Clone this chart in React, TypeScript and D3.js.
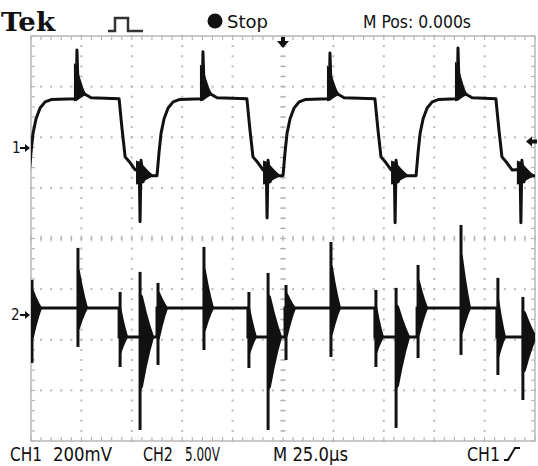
import React from "react";
import * as d3 from "d3";

const W = 538;
const H = 466;

// screen: 10 x 25 µs divisions, trigger in the middle; 8 vertical divisions
const timeDomain = [-125, 125];
const divDomain = [-4, 4];

// CH1 200 mV/div, ground marker 1.79 div above centre
const ch1Offset = 1.79;
const ch1PerDiv = 200;
const ch1High = 194;
const ch1Low = -110;
const ch1Rise = [-126, -62.5, 0, 66];
const ch1Spike = [-102.2, -39.7, 23.3, 86.8];
const ch1SpikePeak = [387, 380, 375, 395];
const ch1Fall = [-81.3, -17.9, 45.6, 105.6];
const ch1Dip = [-70.9, -7.9, 55.6, 118];
const ch1DipLow = [-292, -277, -296, -296];

// CH2 5 V/div, ground marker 1.51 div below centre
const ch2Offset = -1.51;
const ch2PerDiv = 5;
const ch2High = 0.69;
const ch2Low = -2.17;
const ch2Kind = ["r", "s", "f", "d", "r", "s", "f", "d", "r", "s", "f", "d", "r", "s", "f", "d"];
const ch2Time = [-125, -102.2, -81.3, -71.4, -62.5, -39.7, -17.4, -7.9, 1.0, 23.3, 45.6, 55.6, 66.5, 87.8, 106.1, 118.5];
const ch2Max = [3.46, 6.62, 2.27, 4.25, 3.16, 6.72, 2.27, 4.15, 2.96, 7.21, 2.47, 2.67, 4.94, 8.89, 3.66, 1.78];
const ch2Min = [-4.74, -3.16, -5.14, -11.36, -4.94, -3.46, -5.24, -11.36, -4.45, -4.15, -5.14, -11.16, -4.25, -3.95, -5.93, -8.4];

const plot = { left: 31, right: 535, top: 36, bottom: 441 };
const ink = "#111";
const gridGray = "#b8b8b8";
const narrow = "'Liberation Sans Narrow', 'DejaVu Sans Condensed', 'Liberation Sans', sans-serif";

const x = d3.scaleLinear().domain(timeDomain).range([plot.left, plot.right]);
const y = d3.scaleLinear().domain(divDomain).range([plot.bottom, plot.top]);
const y1 = (mv: number) => y(ch1Offset + mv / ch1PerDiv);
const y2 = (v: number) => y(ch2Offset + v / ch2PerDiv);

// decay profile of the ringing blocks
const decayPos = [0, 0.25, 0.5, 0.75, 1];
const decayAmp = [1, 0.9, 0.55, 0.25, 0];

function ch1Points() {
  const A = ch1High - ch1Low;
  const pts: [number, number][] = [];
  ch1Rise.forEach((r, i) => {
    const s = ch1Spike[i], f = ch1Fall[i], d = ch1Dip[i];
    pts.push([r, ch1Low], [r + 1, ch1Low + 0.3 * A], [r + 2, ch1Low + 0.55 * A], [r + 3.5, ch1Low + 0.74 * A],
      [r + 5.5, ch1Low + 0.88 * A], [r + 8, ch1Low + 0.96 * A], [r + 11, ch1Low + 0.99 * A]);
    pts.push([s - 0.4, ch1High], [s, ch1SpikePeak[i]], [s + 0.5, ch1High + 60], [s + 1.5, ch1High + 43],
      [s + 4, ch1High + 18], [s + 7, ch1High + 4]);
    pts.push([f, ch1High], [f + 1.5, ch1Low + 0.6 * A], [f + 3, ch1Low + 0.245 * A], [f + 5.5, ch1Low + 0.168 * A],
      [f + 8, ch1Low + 0.076 * A]);
    pts.push([d - 0.4, ch1Low + 0.08 * A], [d, ch1DipLow[i]], [d + 0.5, ch1Low + 0.2 * A], [d + 1.5, ch1Low - 0.08 * A],
      [d + 3, ch1Low + 0.05 * A], [d + 5, ch1Low]);
  });
  pts.push([130, ch1Low]);
  return pts;
}

type Block = { t: number; w: number; base: number; hi: number; lo: number };

function blockPath(b: Block, ys: (v: number) => number) {
  const area = d3
    .area<number>()
    .x((_, i) => x(b.t + decayPos[i] * b.w))
    .y0((a) => ys(b.base + (b.lo - b.base) * a))
    .y1((a) => ys(b.base + (b.hi - b.base) * a));
  return area(decayAmp) || "";
}

export default function App() {
  const line = d3.line<[number, number]>().x((p) => x(p[0])).y((p) => y1(p[1]));
  const ch1Path = line(ch1Points()) || "";

  const ch1Blocks: Block[] = [];
  ch1Spike.forEach((s, i) => {
    const base = ch1High + 15;
    ch1Blocks.push({ t: s - 1.5, w: 6, base, hi: base + (ch1SpikePeak[i] - 10 - base) * 0.75, lo: ch1High - 10 });
  });
  ch1Dip.forEach((d) => {
    ch1Blocks.push({ t: d - 2, w: 9, base: ch1Low, hi: ch1Low + 60, lo: ch1Low - 35 });
  });

  // CH2 level: high while CH1 is high, low while low
  const levels: [number, number][] = [[-130, ch2Low]];
  ch2Time.forEach((t, i) => {
    if (ch2Kind[i] === "r") levels.push([t, ch2High]);
    if (ch2Kind[i] === "f") levels.push([t, ch2Low]);
  });
  levels.push([130, ch2Low]);
  const step = d3.line<[number, number]>().x((p) => x(p[0])).y((p) => y2(p[1])).curve(d3.curveStepAfter);
  const ch2Path = step(levels) || "";

  const widthOf: Record<string, number> = { r: 5.5, s: 5.5, f: 4.5, d: 7.5 };
  const ch2Blocks: Block[] = ch2Time.map((t, i) => {
    const k = ch2Kind[i];
    const base = k === "r" || k === "s" ? ch2High : ch2Low;
    return { t, w: widthOf[k], base, hi: base + (ch2Max[i] - base) * 0.7, lo: base + (ch2Min[i] - base) * 0.6 };
  });

  // graticule
  const divX = d3.range(11).map((i) => x(timeDomain[0] + 25 * i));
  const divY = d3.range(9).map((i) => y(divDomain[0] + i));
  const minorX = d3.range(51).map((i) => x(timeDomain[0] + 5 * i));
  const minorY = d3.range(41).map((i) => y(divDomain[0] + i * 0.2));
  const cx = x(0);
  const cy = y(0);

  const dots: JSX.Element[] = [];
  divX.slice(1, 10).forEach((gx, i) =>
    minorY.forEach((my, j) => dots.push(<rect key={`v${i}-${j}`} x={gx - 1} y={my - 1} width={2} height={2} fill={gridGray} />))
  );
  divY.slice(1, 8).forEach((gy, i) =>
    minorX.forEach((mx, j) => dots.push(<rect key={`h${i}-${j}`} x={mx - 1} y={gy - 1} width={2} height={2} fill={gridGray} />))
  );

  const ticks: JSX.Element[] = [];
  minorX.forEach((mx, j) => {
    ticks.push(<line key={`tt${j}`} x1={mx} x2={mx} y1={plot.top} y2={plot.top + 4} />);
    ticks.push(<line key={`tb${j}`} x1={mx} x2={mx} y1={plot.bottom - 4} y2={plot.bottom} />);
    ticks.push(<line key={`tc${j}`} x1={mx} x2={mx} y1={cy - 3} y2={cy + 3} />);
  });
  minorY.forEach((my, j) => {
    ticks.push(<line key={`tl${j}`} x1={plot.left} x2={plot.left + 4} y1={my} y2={my} />);
    ticks.push(<line key={`tr${j}`} x1={plot.right - 4} x2={plot.right} y1={my} y2={my} />);
    ticks.push(<line key={`tm${j}`} x1={cx - 3} x2={cx + 3} y1={my} y2={my} />);
  });

  return (
    <svg width={W} height={H} style={{ position: "absolute", left: 0, top: 0, background: "#fff" }}>
      <defs>
        <clipPath id="screen">
          <rect x={plot.left} y={plot.top} width={plot.right - plot.left} height={plot.bottom - plot.top} />
        </clipPath>
      </defs>

      {/* graticule */}
      <g>{dots}</g>
      <g stroke={gridGray} strokeWidth={1.2}>{ticks}</g>
      <rect x={plot.left} y={plot.top} width={plot.right - plot.left} height={plot.bottom - plot.top}
        fill="none" stroke={gridGray} strokeWidth={1.5} />

      {/* traces */}
      <g clipPath="url(#screen)">
        <path d={ch1Path} fill="none" stroke={ink} strokeWidth={3} strokeLinejoin="round" />
        {ch1Blocks.map((b, i) => <path key={`c1b${i}`} d={blockPath(b, y1)} fill={ink} />)}
        <path d={ch2Path} fill="none" stroke={ink} strokeWidth={3} />
        {ch2Blocks.map((b, i) => <path key={`c2b${i}`} d={blockPath(b, y2)} fill={ink} />)}
        {ch2Time.map((t, i) => (
          <line key={`c2s${i}`} x1={x(t) + 1} x2={x(t) + 1} y1={y2(ch2Max[i])} y2={y2(ch2Min[i])} stroke={ink} strokeWidth={3} />
        ))}
      </g>

      {/* markers */}
      <path d={`M${cx - 2},${plot.top + 1}h4v4h4l-6,7l-6,-7h4z`} fill={ink} />
      <path d={`M${plot.right - 9},${y1(25)}l6,-5v3h5v4h-5v3z`} fill={ink} />
      <text x={12} y={y1(0) + 5} fontFamily={narrow} fontSize={15} fill={ink}>1</text>
      <path d={`M20,${y1(0) - 1}h5v-3l5,4l-5,4v-3h-5z`} fill={ink} />
      <text x={11} y={y2(0) + 5} fontFamily={narrow} fontSize={15} fill={ink}>2</text>
      <path d={`M20,${y2(0) - 1}h5v-3l5,4l-5,4v-3h-5z`} fill={ink} />

      {/* header */}
      <text x={1} y={31} fontFamily="'DejaVu Serif', serif" fontWeight="bold" fontSize={26} textLength={54}
        lengthAdjust="spacingAndGlyphs" fill={ink}>Tek</text>
      <path d="M108,31H115V18H128V31H143" fill="none" stroke="#333" strokeWidth={2.5} />
      <circle cx={215} cy={21} r={7.5} fill={ink} />
      <text x={227} y={28} fontFamily={narrow} fontSize={18} textLength={41} lengthAdjust="spacingAndGlyphs" fill={ink}>Stop</text>
      <text x={363} y={28} fontFamily={narrow} fontSize={18} textLength={108} lengthAdjust="spacingAndGlyphs" fill={ink}>M Pos: 0.000s</text>

      {/* footer */}
      <g fontFamily={narrow} fontSize={19} fill={ink}>
        <text x={10} y={461} textLength={32} lengthAdjust="spacingAndGlyphs">CH1</text>
        <text x={53} y={461} textLength={59} lengthAdjust="spacingAndGlyphs">200mV</text>
        <text x={143} y={461} textLength={30} lengthAdjust="spacingAndGlyphs">CH2</text>
        <text x={185} y={461} textLength={35} lengthAdjust="spacingAndGlyphs">5.00V</text>
        <text x={273} y={461} textLength={75} lengthAdjust="spacingAndGlyphs">M 25.0µs</text>
        <text x={467} y={461} textLength={33} lengthAdjust="spacingAndGlyphs">CH1</text>
      </g>
      <path d="M504,460H508L515,448H520" fill="none" stroke={ink} strokeWidth={2} />
    </svg>
  );
}
